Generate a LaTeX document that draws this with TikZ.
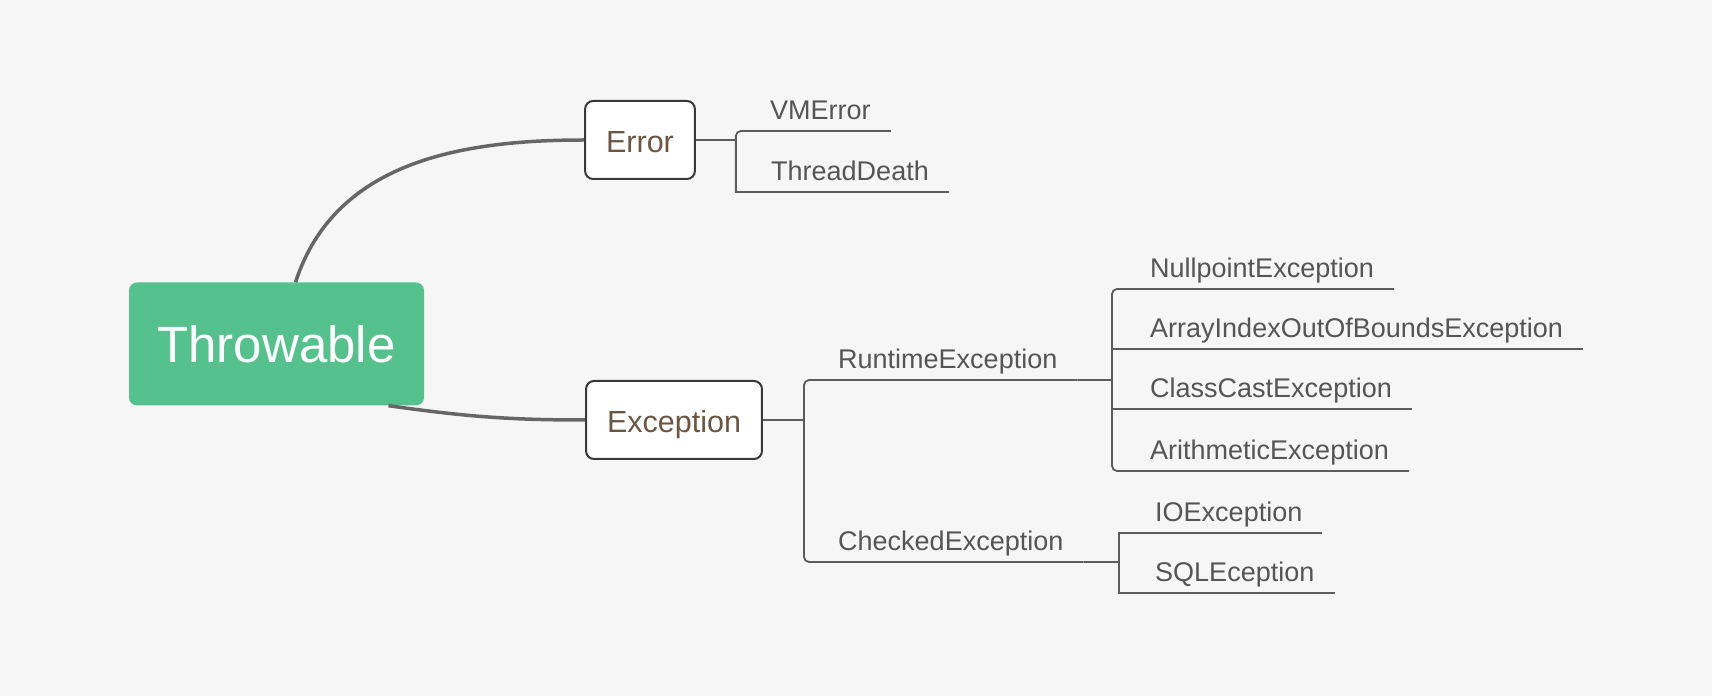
\documentclass[tikz,border=0pt]{standalone}
\usepackage{fontspec}
\setmainfont{Liberation Sans}
\usetikzlibrary{positioning,calc}

\definecolor{bgcol}{HTML}{F6F6F6}
\definecolor{rootgreen}{HTML}{55C28D}
\definecolor{boxline}{HTML}{383838}
\definecolor{topictext}{HTML}{6B5741}
\definecolor{trunkgray}{HTML}{666666}
\definecolor{branchgray}{HTML}{5C5C5C}
\definecolor{leaftext}{HTML}{555555}

\tikzset{
	rootbox/.style={fill=rootgreen,rounded corners=8pt,text=white,inner sep=0pt,
		minimum width=295pt,minimum height=123pt,font=\fontsize{51}{60}\selectfont},
	topic/.style={draw=boxline,line width=2pt,fill=white,rounded corners=8pt,text=topictext,
		inner xsep=21pt,inner ysep=0pt,text height=26pt,text depth=0pt,minimum height=78pt,
		font=\fontsize{30.5}{36}\selectfont},
	leaf/.style={anchor=base west,inner sep=0pt,text=leaftext,font=\fontsize{27}{30}\selectfont},
	trunk/.style={draw=trunkgray,line width=3.5pt},
	stub/.style={draw=branchgray,line width=2.5pt},
	branch/.style={draw=branchgray,line width=1.8pt},
}

\begin{document}
\begin{tikzpicture}[x=1pt,y=1pt]

\fill [bgcol] (0,0) rectangle (1712,696);

\node [rootbox] (throw) at (276.5,352) {Throwable};
\node [topic] (err) at (640,556) {Error};
\node [topic] (exc) at (674,276) {Exception};

% leaves: name/text/x/underline y
\foreach \n/\t/\x/\y in {vm/VMError/770/565, td/ThreadDeath/771/504,
	rt/RuntimeException/838/316, ck/CheckedException/838/134,
	np/NullpointException/1150/407, ai/ArrayIndexOutOfBoundsException/1150/347,
	cc/ClassCastException/1150/287, ar/ArithmeticException/1150/225,
	io/IOException/1155/163, sq/SQLEception/1155/103} {
	\node [leaf] (\n) at (\x,\y+11) {\t};
	\coordinate (\n-e) at ([xshift=20pt,yshift=-11pt]\n.base east);
}

\coordinate (eb) at ([xshift=40pt]err.east);
\coordinate (xb) at ([xshift=41pt]exc.east);
\coordinate (rb) at (1112,316);
\coordinate (cb) at (1119,134);

%%%%%%%%%%%%%%%%%%%%%%%%%%%%%%%%%%%%%%%%%%%%%%%%%%%%%%%%%%%%%%%%

\draw [trunk] ([xshift=19pt]throw.north) to [out=72,in=180] (err.west);
\draw [trunk] ([xshift=112pt]throw.south) to [out=-8,in=180] (exc.west);

\draw [stub] (err) -- (eb);
\draw [branch] (vm-e) [rounded corners=5pt] -| (eb) [sharp corners] |- (td-e);

\draw [stub] (exc) -- (xb);
\draw [branch,rounded corners=5pt] (rt-e) -| (xb) |- (ck-e);

\draw [stub] (rt-e) -- (rb);
\draw [branch,rounded corners=5pt] (np-e) -| (rb) |- (ar-e);
\draw [branch] (rb |- ai-e) -- (ai-e);
\draw [branch] (rb |- cc-e) -- (cc-e);

\draw [stub] (ck-e) -- (cb);
\draw [branch] (io-e) -| (cb) |- (sq-e);

\end{tikzpicture}
\end{document}
